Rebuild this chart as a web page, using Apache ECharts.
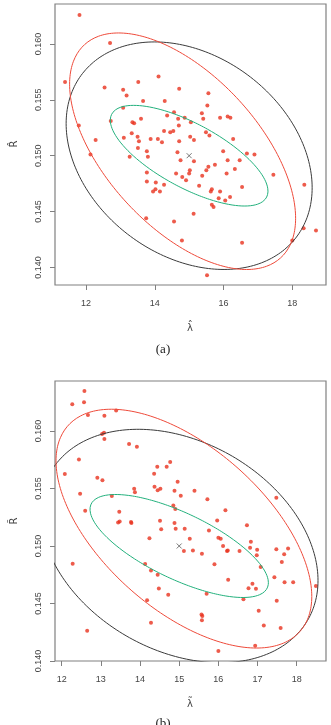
<!DOCTYPE html>
<html>
<head>
<meta charset="utf-8">
<script src="https://cdn.jsdelivr.net/npm/echarts@6/dist/echarts.min.js"></script>
<style>
  html, body { margin: 0; padding: 0; background: #fff; }
  #chart { width: 331px; height: 725px; }
</style>
</head>
<body>
<div id="chart"></div>
<script>
// panel (a): hat estimates
const lamHatA = [11.81, 12.70, 11.39, 12.54, 13.52, 14.11, 13.08, 13.18, 13.66, 14.29,
  14.71, 13.08, 12.72, 13.35, 13.40, 13.60, 14.36, 14.56, 14.68, 14.87,
  14.70, 11.79, 14.27, 14.45, 14.54, 13.33, 13.50, 13.10, 12.28, 13.54,
  13.88, 14.09, 14.21, 14.71, 15.03, 15.56, 15.53, 15.37, 15.41, 15.90,
  16.12, 16.20, 15.05, 15.49, 15.59, 15.14, 16.28, 12.13, 13.51, 13.77,
  13.80, 13.27, 14.66, 14.75, 15.02, 13.77, 14.62, 14.80, 14.91, 15.00,
  14.03, 14.27, 14.02, 13.95, 14.15, 13.75, 14.56, 14.79, 15.99, 16.68,
  16.90, 16.12, 16.47, 15.14, 15.56, 15.50, 15.75, 16.33, 16.09, 15.38,
  17.45, 15.29, 15.66, 15.63, 15.90, 16.54, 15.86, 16.19, 16.05, 15.66,
  15.71, 15.13, 18.35, 16.54, 18.33, 18.00, 18.69, 15.52, 13.77];
const rHatA = [0.1626, 0.1601, 0.1566, 0.1561, 0.1566, 0.1571, 0.1559, 0.1554, 0.1549, 0.1549,
  0.1560, 0.1543, 0.1531, 0.1530, 0.1529, 0.1533, 0.1536, 0.1539, 0.1533, 0.1534,
  0.1527, 0.1527, 0.1522, 0.1521, 0.1522, 0.1520, 0.1517, 0.1516, 0.1514, 0.1513,
  0.1515, 0.1515, 0.1512, 0.1513, 0.1517, 0.1556, 0.1545, 0.1538, 0.1533, 0.1534,
  0.1535, 0.1534, 0.1530, 0.1521, 0.1518, 0.1514, 0.1515, 0.1501, 0.1507, 0.1504,
  0.1499, 0.1499, 0.1503, 0.1496, 0.1487, 0.1485, 0.1484, 0.1481, 0.1478, 0.1484,
  0.1476, 0.1474, 0.1470, 0.1468, 0.1468, 0.1444, 0.1441, 0.1424, 0.1504, 0.1502,
  0.1501, 0.1496, 0.1496, 0.1495, 0.1490, 0.1487, 0.1492, 0.1488, 0.1484, 0.1482,
  0.1483, 0.1473, 0.1470, 0.1468, 0.1468, 0.1472, 0.1462, 0.1463, 0.1460, 0.1456,
  0.1454, 0.1448, 0.1474, 0.1422, 0.1435, 0.1424, 0.1433, 0.1393, 0.1477];

// panel (b): tilde estimates
const lamTilB = [12.58, 12.27, 12.57, 12.67, 13.09, 13.39, 13.03, 13.08, 13.09, 13.72,
  13.92, 12.44, 12.08, 14.77, 14.44, 14.68, 14.36, 12.91, 13.04, 14.96,
  13.85, 13.87, 14.37, 14.52, 14.45, 14.88, 15.04, 12.47, 13.28, 14.85,
  14.90, 12.60, 13.47, 13.44, 13.48, 13.77, 13.78, 14.51, 14.88, 14.54,
  14.91, 15.14, 14.24, 15.27, 15.39, 15.72, 16.18, 15.97, 17.48, 16.73,
  15.76, 16.00, 16.06, 16.83, 15.35, 15.58, 16.12, 16.22, 16.24, 16.54,
  16.81, 16.99, 16.98, 17.48, 17.78, 17.68, 15.90, 17.08, 17.62, 16.25,
  17.43, 16.87, 16.77, 16.96, 17.69, 17.91, 18.49, 15.70, 16.64, 17.49,
  15.57, 15.59, 15.58, 17.03, 17.16, 17.59, 16.94, 16.00, 15.12, 12.28,
  14.13, 14.28, 14.45, 14.48, 14.72, 14.18, 14.28, 12.65];
const rTilB = [0.16348, 0.16232, 0.16250, 0.16139, 0.16133, 0.16178, 0.15974, 0.15984, 0.15930, 0.15887,
  0.15864, 0.15752, 0.15626, 0.15730, 0.15690, 0.15690, 0.15629, 0.15594, 0.15571, 0.15558,
  0.15498, 0.15467, 0.15516, 0.15498, 0.15484, 0.15481, 0.15437, 0.15455, 0.15435, 0.15352,
  0.15322, 0.15307, 0.15297, 0.15204, 0.15213, 0.15209, 0.15200, 0.15219, 0.15200, 0.15146,
  0.15150, 0.15150, 0.15067, 0.15063, 0.15480, 0.15406, 0.15310, 0.15222, 0.15420, 0.15181,
  0.15135, 0.15072, 0.15063, 0.15037, 0.14961, 0.14933, 0.15000, 0.14957, 0.14961, 0.14957,
  0.14985, 0.14967, 0.14920, 0.14972, 0.14978, 0.14928, 0.14841, 0.14817, 0.14861, 0.14707,
  0.14728, 0.14672, 0.14633, 0.14628, 0.14685, 0.14685, 0.14652, 0.14585, 0.14537, 0.14523,
  0.14404, 0.14391, 0.14354, 0.14437, 0.14309, 0.14287, 0.14133, 0.14087, 0.14957, 0.14845,
  0.14843, 0.14787, 0.14750, 0.14630, 0.14577, 0.14528, 0.14333, 0.14263];

// true value (the x mark)
const truthA = [15, 0.150];
const truthB = [15, 0.150];

// ellipses: black, red, green  (centre, half-extents, correlation)
const ellColors = ['#3a3a3a', '#ee4a3a', '#22b07c'];
const ellCxA = [15, 14.81, 15];
const ellCyA = [0.150, 0.1504, 0.150];
const ellSxA = [3.578, 3.287, 2.293];
const ellSyA = [0.010185, 0.010588, 0.004506];
const ellRA = [-0.282, -0.567, -0.704];
const ellCxB = [15, 15.12, 15];
const ellCyB = [0.150, 0.15151, 0.150];
const ellSxB = [3.544, 3.265, 2.277];
const ellSyB = [0.010148, 0.010383, 0.004478];
const ellRB = [-0.296, -0.568, -0.713];

const xTicksA = [12, 14, 16, 18];
const xTicksB = [12, 13, 14, 15, 16, 17, 18];
const yTicks = [0.140, 0.145, 0.150, 0.155, 0.160];

function ellipse (cx, cy, sx, sy, r) {
  const pts = [];
  const k = Math.sqrt(1 - r * r);
  for (let i = 0; i <= 240; i++) {
    const t = i / 240 * 2 * Math.PI;
    pts.push([cx + sx * Math.cos(t), cy + sy * (r * Math.cos(t) + k * Math.sin(t))]);
  }
  return pts;
}

const zip = (a, b) => a.map((v, i) => [v, b[i]]);

const boxColor = '#808080';
const textColor = '#444';

function xAxisOf (grid, min, max, ticks) {
  return {
    type: 'value', gridIndex: grid, min, max,
    axisLine: { show: false },
    splitLine: { show: false },
    axisTick: { show: true, length: 5, customValues: ticks, lineStyle: { color: boxColor } },
    axisLabel: { customValues: ticks, margin: 14, color: textColor, fontSize: 9, fontFamily: 'Liberation Sans' }
  }
}

function yAxisOf (grid, min, max) {
  return {
    type: 'value', gridIndex: grid, min, max,
    axisLine: { show: false },
    splitLine: { show: false },
    axisTick: { show: true, length: 5, customValues: yTicks, lineStyle: { color: boxColor } },
    axisLabel: {
      customValues: yTicks, rotate: 90, margin: 12, color: textColor, fontSize: 9,
      fontFamily: 'Liberation Sans',
      formatter: v => v.toFixed(3)
    }
  }
}

const series = [];
[[0, lamHatA, rHatA, truthA, ellCxA, ellCyA, ellSxA, ellSyA, ellRA],
 [1, lamTilB, rTilB, truthB, ellCxB, ellCyB, ellSxB, ellSyB, ellRB]].forEach(p => {
  const [g, xs, ys, truth, cx, cy, sx, sy, rr] = p;
  series.push({
    type: 'scatter', xAxisIndex: g, yAxisIndex: g, z: 2,
    symbolSize: 4, itemStyle: { color: '#e8321e' },
    data: zip(xs, ys)
  });
  cx.forEach((c, i) => {
    series.push({
      type: 'line', xAxisIndex: g, yAxisIndex: g, z: 3,
      showSymbol: false, smooth: false, clip: true,
      lineStyle: { color: ellColors[i], width: 1 },
      data: ellipse(c, cy[i], sx[i], sy[i], rr[i])
    });
  });
  series.push({
    type: 'scatter', xAxisIndex: g, yAxisIndex: g, z: 4,
    symbol: 'path://M0,0L10,10M0,10L10,0', symbolSize: 5,
    itemStyle: { color: 'none', borderColor: '#555', borderWidth: 1 },
    data: [truth]
  });
});

function label (text, x, y, opts) {
  return Object.assign({
    type: 'text', x, y,
    style: { text, fill: textColor, font: '10px "DejaVu Sans"', align: 'center', verticalAlign: 'middle' }
  }, opts || {});
}

const chart = echarts.init(document.getElementById('chart'));
chart.setOption({
  animation: false,
  grid: [
    { left: 55, top: 4, width: 271, height: 281, show: true, borderColor: boxColor, borderWidth: 1.2, backgroundColor: 'transparent' },
    { left: 55, top: 381, width: 271, height: 280, show: true, borderColor: boxColor, borderWidth: 1.2, backgroundColor: 'transparent' }
  ],
  xAxis: [xAxisOf(0, 11.098, 18.981, xTicksA), xAxisOf(1, 11.829, 18.748, xTicksB)],
  yAxis: [yAxisOf(0, 0.138424, 0.163581), yAxisOf(1, 0.140, 0.164348)],
  series,
  graphic: [
    label('\u03bb\u0302', 190, 328),
    label('R\u0302', 14, 144, { rotation: Math.PI / 2 }),
    label('(a)', 163, 350, { style: { text: '(a)', fill: '#222', font: '13px "Liberation Serif"', align: 'center', verticalAlign: 'middle' } }),
    label('\u03bb\u0303', 190, 704),
    label('R\u0303', 14, 521, { rotation: Math.PI / 2 }),
    label('(b)', 163, 724, { style: { text: '(b)', fill: '#222', font: '13px "Liberation Serif"', align: 'center', verticalAlign: 'middle' } })
  ]
});
</script>
</body>
</html>
